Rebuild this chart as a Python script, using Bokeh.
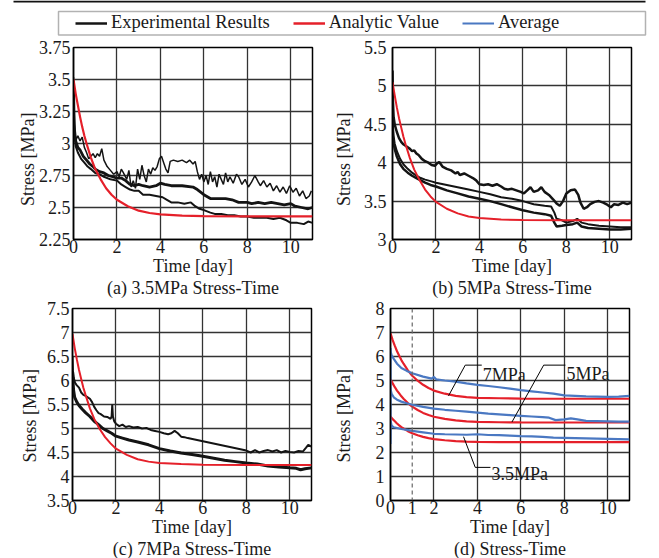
import numpy as np
from bokeh.plotting import figure
from bokeh.models import Range1d, FixedTicker, Label, Span, Legend, LegendItem, BoxAnnotation, Title
from bokeh.layouts import column, row
from bokeh.embed import file_html
from bokeh.resources import INLINE

FONT = "Liberation Serif"
TXT = "#1a1a1a"
BLACK = "#141414"
RED = "#e5202a"
BLUE = "#4a78c2"
NB = "\u00a0"

# ---------------- data ----------------
x_ticks = [0, 2, 4, 6, 8, 10]
x_tick_labels = ["0", "2", "4", "6", "8", "10"]
xd_ticks = [0, 1, 2, 4, 6, 8, 10]
xd_tick_labels = ["0", "1", "2", "4", "6", "8", "10"]

ya_ticks = [2.25, 2.5, 2.75, 3, 3.25, 3.5, 3.75]
ya_labels = ["2.25", "2.5", "2.75", "3", "3.25", "3.5", "3.75"]
yb_ticks = [3, 3.5, 4, 4.5, 5, 5.5]
yb_labels = ["3", "3.5", "4", "4.5", "5", "5.5"]
yc_ticks = [3.5, 4, 4.5, 5, 5.5, 6, 6.5, 7, 7.5]
yc_labels = ["3.5", "4", "4.5", "5", "5.5", "6", "6.5", "7", "7.5"]
yd_ticks = [0, 1, 2, 3, 4, 5, 6, 7, 8]
yd_labels = ["0", "1", "2", "3", "4", "5", "6", "7", "8"]

# analytic values
ana_t = [0, 0.1, 0.2, 0.3, 0.4, 0.5, 0.6, 0.8, 1.0, 1.25, 1.5, 1.75, 2.0, 2.5, 3.0, 3.5, 4.0, 5.0, 6.0, 8.0, 11.0]
ana_35 = [3.50, 3.39, 3.30, 3.21, 3.13, 3.06, 3.00, 2.89, 2.80, 2.72, 2.65, 2.60, 2.56, 2.51, 2.475, 2.457, 2.446, 2.436, 2.432, 2.43, 2.43]
ana_5 = [5.05, 4.88, 4.72, 4.58, 4.46, 4.34, 4.24, 4.06, 3.91, 3.77, 3.65, 3.56, 3.49, 3.40, 3.34, 3.30, 3.28, 3.26, 3.255, 3.25, 3.25]
ana_7 = [6.97, 6.68, 6.44, 6.22, 6.03, 5.85, 5.70, 5.42, 5.20, 4.99, 4.82, 4.69, 4.58, 4.45, 4.36, 4.31, 4.28, 4.26, 4.245, 4.24, 4.24]

# (a) 3.5 MPa experiments
a1_t = [0, 0.02, 0.06, 0.12, 0.2, 0.3, 0.4, 0.5, 0.6, 0.7, 0.8, 0.9, 1.0, 1.1, 1.2, 1.3, 1.4, 1.55, 1.7, 1.85,
        2.0, 2.1, 2.2, 2.3, 2.45, 2.55, 2.65, 2.75, 2.85, 2.95, 3.05, 3.15, 3.25, 3.35, 3.45, 3.55, 3.65, 3.75, 3.85, 3.95,
        4.05, 4.15, 4.25, 4.35, 4.45, 4.6, 4.8, 5.0, 5.2, 5.35, 5.5, 5.6, 5.7, 5.8, 5.9, 6.0, 6.1, 6.2, 6.3, 6.4,
        6.5, 6.6, 6.7, 6.8, 6.9, 7.0, 7.1, 7.2, 7.35, 7.5, 7.6, 7.75, 7.9, 8.05, 8.2, 8.35, 8.5, 8.6, 8.75, 8.9,
        9.05, 9.2, 9.35, 9.5, 9.65, 9.8, 9.95, 10.1, 10.25, 10.4, 10.55, 10.7, 10.85, 10.95]
a1_v = [3.52, 3.2, 3.08, 3.03, 3.06, 3.02, 3.05, 2.97, 2.93, 2.88, 2.9, 2.92, 2.89, 2.92, 2.9, 2.96, 2.87, 2.82, 2.79, 2.76,
        2.78, 2.74, 2.8, 2.77, 2.72, 2.79, 2.66, 2.71, 2.65, 2.8, 2.72, 2.83, 2.75, 2.7, 2.8, 2.76, 2.81, 2.79, 2.82, 2.88,
        2.9, 2.85, 2.8, 2.77, 2.86, 2.87, 2.86, 2.87, 2.85, 2.87, 2.84, 2.86, 2.78, 2.72, 2.76, 2.7, 2.75, 2.68, 2.78, 2.7,
        2.74, 2.66, 2.76, 2.72, 2.68, 2.77, 2.7, 2.74, 2.69, 2.76, 2.74, 2.68, 2.72, 2.66, 2.7, 2.75, 2.7, 2.67, 2.71, 2.66,
        2.69, 2.63, 2.67, 2.62, 2.66, 2.61, 2.67, 2.62, 2.65, 2.59, 2.63, 2.57, 2.59, 2.63]
a2_t = [0, 0.02, 0.05, 0.1, 0.2, 0.3, 0.45, 0.6, 0.75, 0.9, 1.0, 1.2, 1.4, 1.6, 1.8, 2.0, 2.2, 2.4, 2.6, 2.8,
        3.0, 3.2, 3.5, 3.8, 4.0, 4.2, 4.5, 5.0, 5.5, 5.7, 6.0, 6.3, 6.6, 7.0, 7.3, 7.6, 8.0, 8.2, 8.5, 8.8,
        9.1, 9.4, 9.7, 10.0, 10.2, 10.5, 10.8, 11.0]
a2_v = [3.45, 3.25, 3.1, 3.02, 2.97, 2.95, 2.9, 2.87, 2.84, 2.82, 2.8, 2.78, 2.77, 2.75, 2.74, 2.73, 2.73, 2.71, 2.68, 2.67,
        2.68, 2.67, 2.66, 2.67, 2.69, 2.68, 2.67, 2.67, 2.66, 2.64, 2.6, 2.57, 2.57, 2.57, 2.56, 2.54, 2.54, 2.53, 2.54, 2.53,
        2.54, 2.53, 2.52, 2.53, 2.51, 2.5, 2.49, 2.5]
a3_t = [0, 0.03, 0.1, 0.2, 0.35, 0.5, 0.65, 0.8, 1.0, 1.2, 1.4, 1.7, 2.0, 2.2, 2.4, 2.6, 2.8, 3.0, 3.2, 3.5,
        3.8, 4.1, 4.3, 4.5, 4.8, 5.1, 5.4, 5.6, 5.8, 6.0, 6.3, 6.5, 6.8, 7.1, 7.4, 7.7, 8.0, 8.3, 8.6, 8.9,
        9.2, 9.5, 9.8, 10.0, 10.3, 10.6, 10.8, 11.0]
a3_v = [3.35, 3.1, 2.98, 2.93, 2.88, 2.85, 2.82, 2.8, 2.77, 2.76, 2.74, 2.72, 2.71, 2.68, 2.66, 2.64, 2.63, 2.63, 2.6, 2.6,
        2.59, 2.58, 2.56, 2.54, 2.54, 2.53, 2.54, 2.51, 2.49, 2.48, 2.46, 2.45, 2.45, 2.44, 2.44, 2.43, 2.43, 2.42, 2.42, 2.42,
        2.41, 2.42, 2.4, 2.38, 2.38, 2.37, 2.39, 2.38]

# (b) 5 MPa experiments
b1_t = [0, 0.02, 0.05, 0.1, 0.2, 0.3, 0.4, 0.5, 0.6, 0.7, 0.8, 0.9, 1.0, 1.1, 1.2, 1.35, 1.5, 1.65, 1.8, 1.95,
        2.05, 2.15, 2.3, 2.5, 2.7, 2.9, 3.0, 3.1, 3.3, 3.5, 3.7, 3.85, 4.0, 4.2, 4.4, 4.6, 4.8, 5.0, 5.15, 5.3,
        5.5, 5.7, 5.9, 6.05, 6.2, 6.35, 6.5, 6.7, 6.85, 7.0, 7.2, 7.4, 7.55, 7.7, 7.85, 8.0, 8.2, 8.4, 8.55, 8.65,
        8.8, 8.95, 9.1, 9.3, 9.5, 9.7, 9.9, 10.05, 10.2, 10.4, 10.6, 10.8, 11.0]
b1_v = [5.2, 4.8, 4.6, 4.5, 4.4, 4.32, 4.27, 4.24, 4.22, 4.2, 4.18, 4.15, 4.16, 4.12, 4.1, 4.05, 4.02, 4.0, 3.97, 3.96,
        3.99, 4.01, 3.95, 3.92, 3.9, 3.86, 3.88, 3.84, 3.86, 3.83, 3.8, 3.77, 3.72, 3.71, 3.72, 3.7, 3.72, 3.69, 3.66, 3.65,
        3.66, 3.64, 3.62, 3.6, 3.64, 3.68, 3.62, 3.64, 3.68, 3.62, 3.58, 3.52, 3.47, 3.44, 3.5, 3.6, 3.64, 3.65, 3.58, 3.48,
        3.4, 3.42, 3.46, 3.49, 3.5, 3.48, 3.45, 3.42, 3.46, 3.45, 3.48, 3.46, 3.48]
b2_t = [0, 0.02, 0.05, 0.1, 0.2, 0.35, 0.5, 0.7, 0.9, 1.1, 1.3, 1.5, 1.75, 2.0, 2.5, 3.0, 3.5, 4.0, 4.5, 5.0,
        5.5, 6.0, 6.5, 7.0, 7.3, 7.45, 7.55, 7.8, 8.0, 8.3, 8.5, 8.7, 9.0, 9.5, 10.0, 10.5, 11.0]
b2_v = [4.7, 4.5, 4.35, 4.25, 4.15, 4.05, 3.98, 3.92, 3.87, 3.83, 3.8, 3.78, 3.76, 3.74, 3.71, 3.68, 3.65, 3.62, 3.59, 3.55,
        3.53, 3.5, 3.46, 3.44, 3.43, 3.35, 3.27, 3.25, 3.22, 3.24, 3.27, 3.22, 3.2, 3.18, 3.17, 3.16, 3.16]
b3_t = [0, 0.02, 0.05, 0.1, 0.2, 0.35, 0.5, 0.7, 0.9, 1.1, 1.3, 1.5, 1.75, 2.0, 2.5, 3.0, 3.5, 4.0, 4.5, 5.0,
        5.5, 6.0, 6.5, 7.0, 7.3, 7.45, 7.55, 7.8, 8.0, 8.3, 8.5, 8.7, 9.0, 9.5, 10.0, 10.5, 11.0]
b3_v = [4.5, 4.35, 4.25, 4.18, 4.08, 3.98, 3.92, 3.87, 3.83, 3.8, 3.77, 3.74, 3.71, 3.69, 3.64, 3.6, 3.56, 3.53, 3.5, 3.46,
        3.42, 3.38, 3.35, 3.33, 3.31, 3.22, 3.17, 3.18, 3.19, 3.2, 3.22, 3.17, 3.15, 3.14, 3.13, 3.13, 3.14]

# (c) 7 MPa experiments
c1_t = [0, 0.02, 0.06, 0.12, 0.2, 0.3, 0.4, 0.5, 0.6, 0.7, 0.8, 0.9, 1.0, 1.1, 1.2, 1.3, 1.45, 1.6, 1.75, 1.8,
        1.83, 1.86, 1.92, 2.0, 2.15, 2.3, 2.45, 2.6, 2.8, 3.0, 3.2, 3.4, 3.6, 3.8, 4.0, 4.2, 4.4, 4.55, 4.7, 4.85,
        5.0, 5.15, 5.3, 8.0, 8.2, 8.4, 8.6, 8.8, 9.0, 9.2, 9.4, 9.6, 9.8, 10.0, 10.2, 10.4, 10.6, 10.75, 10.85, 11.0]
c1_v = [6.5, 6.2, 6.05, 5.95, 5.9, 5.85, 5.75, 5.7, 5.68, 5.65, 5.62, 5.55, 5.45, 5.38, 5.32, 5.3, 5.25, 5.24, 5.2, 5.25,
        5.5, 5.25, 5.15, 5.1, 5.05, 5.08, 5.03, 5.05, 5.02, 5.03, 5.0, 5.01, 4.97, 4.95, 4.93, 4.9, 4.88, 4.9, 4.95, 4.9,
        4.83, 4.82, 4.8, 4.54, 4.5, 4.55, 4.5, 4.53, 4.55, 4.52, 4.55, 4.5, 4.53, 4.51, 4.5, 4.53, 4.52, 4.6, 4.66, 4.62]
c2_t = [0, 0.02, 0.05, 0.1, 0.2, 0.3, 0.45, 0.6, 0.8, 1.0, 1.2, 1.4, 1.6, 1.8, 2.0, 2.3, 2.6, 3.0, 3.5, 4.0,
        4.5, 5.0, 5.5, 6.0, 6.5, 7.0, 7.5, 8.0, 8.5, 9.0, 9.5, 10.0, 10.3, 10.5, 10.7, 11.0]
c2_v = [6.2, 6.0, 5.8, 5.65, 5.55, 5.48, 5.4, 5.33, 5.25, 5.15, 5.08, 5.0, 4.95, 4.9, 4.84, 4.8, 4.76, 4.72, 4.66, 4.58,
        4.53, 4.49, 4.46, 4.42, 4.38, 4.34, 4.31, 4.28, 4.26, 4.22, 4.2, 4.18, 4.17, 4.14, 4.16, 4.18]

# (d) averages
d7_t = [0, 0.004, 0.01, 0.05, 0.15, 0.3, 0.5, 0.75, 1.0, 1.5, 1.9, 2.0, 2.1, 2.5, 3.0, 3.5, 4.0, 4.5, 5.0, 5.5, 6.0,
        6.5, 7.0, 7.5, 8.0, 8.5, 9.0, 9.5, 10.0, 10.5, 11.0]
d7_v = [4.75, 6.35, 6.2, 6.05, 5.9, 5.7, 5.52, 5.4, 5.3, 5.16, 5.08, 5.15, 5.05, 5.0, 4.95, 4.88, 4.82, 4.77, 4.72, 4.66, 4.6,
        4.55, 4.5, 4.45, 4.38, 4.36, 4.34, 4.33, 4.32, 4.33, 4.36]
d5_t = [0, 0.004, 0.01, 0.05, 0.15, 0.3, 0.5, 0.75, 1.0, 1.5, 2.0, 2.5, 3.0, 3.5, 4.0, 4.5, 5.0, 5.5, 6.0, 6.5, 7.0,
        7.3, 7.6, 8.0, 8.3, 8.6, 9.0, 9.5, 10.0, 10.5, 11.0]
d5_v = [3.3, 4.75, 4.6, 4.45, 4.3, 4.2, 4.12, 4.05, 3.99, 3.9, 3.83, 3.78, 3.74, 3.7, 3.66, 3.62, 3.59, 3.56, 3.53, 3.5, 3.47,
        3.45, 3.35, 3.38, 3.42, 3.38, 3.32, 3.31, 3.3, 3.29, 3.29]
d35_t = [0, 0.01, 0.05, 0.15, 0.3, 0.5, 0.75, 1.0, 1.5, 2.0, 2.5, 3.0, 3.5, 4.0, 4.5, 5.0, 5.5, 6.0, 6.5, 7.0,
         7.5, 8.0, 8.5, 9.0, 9.5, 10.0, 10.5, 11.0]
d35_v = [2.35, 3.3, 3.12, 3.05, 3.02, 2.98, 2.94, 2.9, 2.84, 2.78, 2.76, 2.75, 2.74, 2.76, 2.73, 2.72, 2.7, 2.68, 2.67, 2.65,
         2.62, 2.61, 2.6, 2.59, 2.58, 2.57, 2.56, 2.55]

# callouts in (d): label, leader x points, leader y points, text position
call_labels = ["7MPa", "5MPa", "3.5MPa"]
call_lx = [[2.67, 3.44, 4.2], [5.59, 7.05, 8.05], [3.36, 3.9, 4.6]]
call_ly = [[4.36, 5.64, 5.64], [3.27, 5.64, 5.64], [2.66, 1.38, 1.38]]
call_tx = [4.25, 8.1, 4.65]
call_ty = [5.22, 5.29, 1.1]

legend_labels = ["Experimental Results", "Analytic Value", "Average"]
subtitles = ["(a) 3.5MPa Stress-Time", "(b) 5MPa Stress-Time", "(c) 7MPa Stress-Time", "(d) Stress-Time"]


def make_panel(yr, yt, yl, xt, xl, gx, bl, bt, fh, bb, br, ystand, ylab_stand, npad, sub):
    p = figure(frame_width=239, frame_height=fh, min_border_left=bl, min_border_top=bt,
               min_border_bottom=bb, min_border_right=br,
               x_range=Range1d(0, 11), y_range=Range1d(*yr),
               output_backend="svg", toolbar_location=None)
    p.outline_line_color = "black"
    p.outline_line_width = 1.5
    p.outline_line_alpha = 1
    for ax, ticks, labels in ((p.xaxis[0], xt, xl), (p.yaxis[0], yt, yl)):
        ax.ticker = FixedTicker(ticks=ticks)
        ax.major_label_overrides = dict(zip(ticks, labels))
        ax.major_tick_in = 0
        ax.major_tick_out = 0
        ax.minor_tick_in = 0
        ax.minor_tick_out = 0
        ax.axis_line_color = "black"
        ax.axis_line_width = 1.5
        ax.major_label_text_font = FONT
        ax.major_label_text_font_size = "18px"
        ax.major_label_text_color = TXT
        ax.axis_label_text_font = FONT
        ax.axis_label_text_font_size = "18px"
        ax.axis_label_text_font_style = "normal"
        ax.axis_label_text_color = TXT
    p.xaxis.major_label_standoff = 0
    p.xaxis.axis_label = "Time [day]"
    p.xaxis.axis_label_standoff = 0
    p.yaxis.major_label_standoff = ystand
    p.yaxis.axis_label = "Stress [MPa]" + NB * npad
    p.yaxis.axis_label_standoff = ylab_stand
    p.xgrid.ticker = FixedTicker(ticks=gx)
    p.ygrid.ticker = FixedTicker(ticks=yt)
    p.grid.grid_line_color = "#333333"
    p.grid.grid_line_width = 1.3
    p.grid.grid_line_alpha = 1
    p.add_layout(Title(text=sub, align="center", text_font=FONT, text_font_size="18px",
                       text_font_style="normal", text_color=TXT, standoff=-5), "below")
    return p


# ---- legend strip ----
lg = figure(width=659, height=36, min_border=0, x_range=Range1d(0, 659), y_range=Range1d(0, 36),
            x_axis_location=None, y_axis_location=None, output_backend="svg", toolbar_location=None)
lg.grid.visible = False
lg.outline_line_color = None
nan = [float("nan")]
r_exp = lg.line(x=nan, y=nan, line_color=BLACK, line_width=2.5)
r_ana = lg.line(x=nan, y=nan, line_color=RED, line_width=2.5)
r_avg = lg.line(x=nan, y=nan, line_color=BLUE, line_width=2)
leg = Legend(items=[LegendItem(label=legend_labels[0], renderers=[r_exp]),
                    LegendItem(label=legend_labels[1], renderers=[r_ana]),
                    LegendItem(label=legend_labels[2], renderers=[r_avg])],
             orientation="horizontal", location=(75, 3), padding=0, margin=0, spacing=23,
             glyph_width=32, glyph_height=20, label_standoff=4, label_height=20,
             label_text_font=FONT, label_text_font_size="18.5px", label_text_color=TXT,
             border_line_alpha=0, background_fill_alpha=0)
lg.add_layout(leg)
lg.add_layout(BoxAnnotation(left=58, right=645, bottom=1.5, top=25, fill_alpha=0,
                            line_color="black", line_width=1.5))
lg.add_layout(BoxAnnotation(left=13, right=645, bottom=34, top=36, fill_color="#111111",
                            fill_alpha=1, line_alpha=0))

# ---- (a) ----
pa = make_panel((2.25, 3.75), ya_ticks, ya_labels, x_ticks, x_tick_labels, x_ticks,
                73, 11, 192, 59, 18, 3, -2, 7, subtitles[0])
pa.line(a1_t, a1_v, line_color=BLACK, line_width=1.5)
pa.line(a2_t, a2_v, line_color=BLACK, line_width=2.8)
pa.line(a3_t, a3_v, line_color=BLACK, line_width=2)
pa.line(ana_t, ana_35, line_color=RED, line_width=2.2)

# ---- (b) ----
pb = make_panel((3, 5.5), yb_ticks, yb_labels, x_ticks, x_tick_labels, x_ticks,
                57, 11, 192, 59, 33, 6, 7, 7, subtitles[1])
pb.line(b1_t, b1_v, line_color=BLACK, line_width=2.5)
pb.line(b2_t, b2_v, line_color=BLACK, line_width=2)
pb.line(b3_t, b3_v, line_color=BLACK, line_width=2.5)
pb.line(ana_t, ana_5, line_color=RED, line_width=2)

# ---- (c) ----
pc = make_panel((3.5, 7.5), yc_ticks, yc_labels, x_ticks, x_tick_labels, x_ticks,
                72, 10, 192, 58, 19, 3, 4, 5, subtitles[2])
pc.line(c1_t, c1_v, line_color=BLACK, line_width=2)
pc.line(c2_t, c2_v, line_color=BLACK, line_width=3)
pc.line(ana_t, ana_7, line_color=RED, line_width=2)

# ---- (d) ----
pd = make_panel((0, 8), yd_ticks, yd_labels, xd_ticks, xd_tick_labels, x_ticks,
                57, 10, 192, 58, 33, 6, 19, 5, subtitles[3])
pd.add_layout(Span(location=1, dimension="height", line_color="#666666", line_width=1.2, line_dash="4 3"))
for tt, vv in ((ana_t, ana_7), (ana_t, ana_5), (ana_t, ana_35)):
    pd.line(tt, vv, line_color=RED, line_width=2.2)
for tt, vv in ((d7_t, d7_v), (d5_t, d5_v), (d35_t, d35_v)):
    pd.line(tt, vv, line_color=BLUE, line_width=2.2)
for lab, lx, ly, tx, ty in zip(call_labels, call_lx, call_ly, call_tx, call_ty):
    pd.line(lx, ly, line_color="black", line_width=1)
    pd.add_layout(Label(x=tx, y=ty, text=lab, text_align="left", text_baseline="alphabetic",
                        text_font=FONT, text_font_size="18px", text_color=TXT))

layout = column(lg, row(pa, pb), row(pc, pd))
open("out.html", "w").write(file_html(layout, INLINE))
